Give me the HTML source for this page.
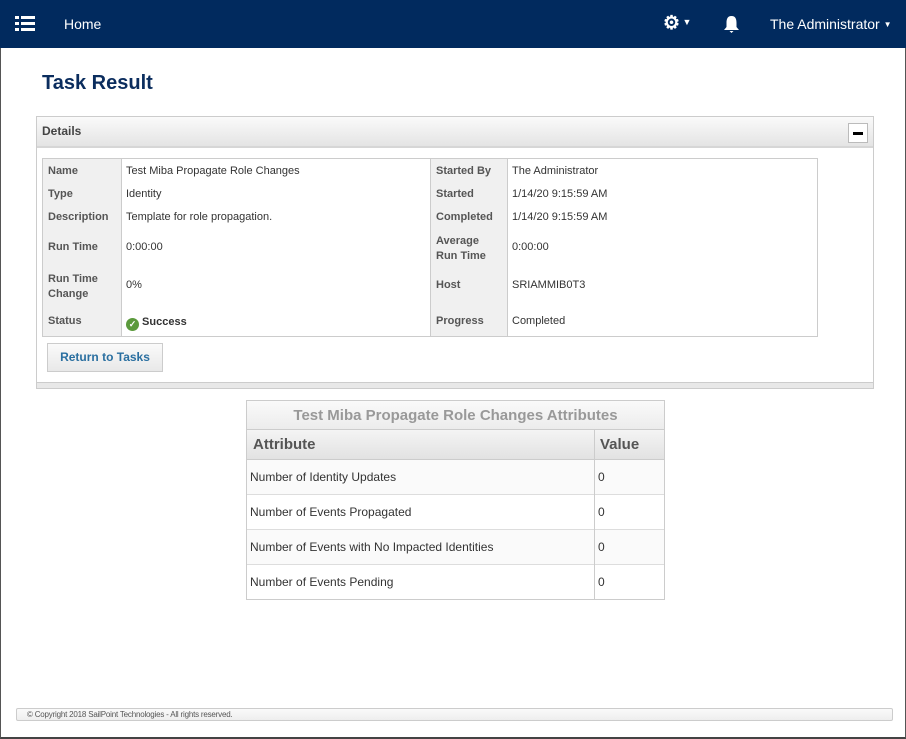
<!DOCTYPE html>
<html><head><style>
*{box-sizing:border-box;margin:0;padding:0}
body{width:906px;height:739px;background:#fff;font-family:"Liberation Sans",sans-serif;position:relative;overflow:hidden}
.nav{position:absolute;left:0;top:0;width:906px;height:48px;background:#012a5e;color:#fff}
.abs{position:absolute}
.lbl{color:#555;font-weight:bold;font-size:11px;background:#f0f0f0}
.val{color:#333;font-size:11px}
td{vertical-align:top}
</style></head><body>
<div class="abs" style="left:0;top:0;width:906px;height:739px;border-left:1px solid #555;border-right:1px solid #555;border-bottom:2px solid #444"></div>
<div class="nav">
<svg class="abs" style="left:15px;top:16px" width="20" height="15"><g fill="#fff"><rect x="0" y="0" width="4" height="3"/><rect x="6" y="0" width="14" height="3"/><rect x="0" y="6" width="4" height="3"/><rect x="6" y="6" width="14" height="3"/><rect x="0" y="12" width="4" height="3"/><rect x="6" y="12" width="14" height="3"/></g></svg>
<div class="abs" style="left:64px;top:16px;font-size:14px">Home</div>
<div class="abs" style="left:663px;top:12px;font-size:19px;font-weight:bold">⚙<span style="font-size:9px;vertical-align:4px"> ▼</span></div>
<svg class="abs" style="left:723px;top:15px" width="17" height="18"><path d="M8.5 1 C4 1 3.5 5 3.5 8 L3.5 12 L1 15 L16 15 L13.5 12 L13.5 8 C13.5 5 13 1 8.5 1Z M6.5 16 L10.5 16 L8.5 18Z" fill="#fff"/></svg>
<div class="abs" style="left:770px;top:16px;font-size:14px">The Administrator <span style="font-size:8px;vertical-align:2px">▼</span></div>
</div>
<div class="abs" style="left:42px;top:72px;font-size:20px;font-weight:bold;color:#0b2d5e">Task Result</div>
<div class="abs" style="left:36px;top:116px;width:838px;height:273px;border:1px solid #ccc">
<div style="height:31px;background:linear-gradient(#fafafa,#e4e4e4);border-bottom:2px solid #d6d6d6;padding:7px 5px;font-size:12px;font-weight:bold;color:#444">Details</div>
<div class="abs" style="right:5px;top:6px;width:20px;height:20px;border:1px solid #bbb;background:#fff"><div style="margin:8px 4px;height:3px;background:#000"></div></div>
<div class="abs" style="left:0;bottom:0;width:836px;height:6px;background:#e8e8e8;border-top:1px solid #ccc"></div>
</div>
<table class="abs" style="left:42px;top:158px;width:776px;height:179px;border-collapse:collapse;border:1px solid #ccc">
<colgroup><col style="width:79px"><col style="width:309px"><col style="width:77px"><col></colgroup>
<tr style="height:24px"><td class="lbl" style="padding:6px 5px 0">Name</td><td class="val" style="padding:6px 4px 0;border-left:1px solid #ccc">Test Miba Propagate Role Changes</td><td class="lbl" style="padding:6px 5px 0;border-left:1px solid #ccc">Started By</td><td class="val" style="padding:6px 4px 0;border-left:1px solid #ccc">The Administrator</td></tr>
<tr style="height:23px"><td class="lbl" style="padding:5px 5px 0">Type</td><td class="val" style="padding:5px 4px 0;border-left:1px solid #ccc">Identity</td><td class="lbl" style="padding:5px 5px 0;border-left:1px solid #ccc">Started</td><td class="val" style="padding:5px 4px 0;border-left:1px solid #ccc">1/14/20 9:15:59 AM</td></tr>
<tr style="height:23px"><td class="lbl" style="padding:5px 5px 0">Description</td><td class="val" style="padding:5px 4px 0;border-left:1px solid #ccc">Template for role propagation.</td><td class="lbl" style="padding:5px 5px 0;border-left:1px solid #ccc">Completed</td><td class="val" style="padding:5px 4px 0;border-left:1px solid #ccc">1/14/20 9:15:59 AM</td></tr>
<tr style="height:38px"><td class="lbl" style="padding:12px 5px 0">Run Time</td><td class="val" style="padding:12px 4px 0;border-left:1px solid #ccc">0:00:00</td><td class="lbl" style="padding:5px 5px 0;border-left:1px solid #ccc;line-height:15px">Average Run Time</td><td class="val" style="padding:12px 4px 0;border-left:1px solid #ccc">0:00:00</td></tr>
<tr style="height:38px"><td class="lbl" style="padding:5px 5px 0;line-height:15px">Run Time Change</td><td class="val" style="padding:12px 4px 0;border-left:1px solid #ccc">0%</td><td class="lbl" style="padding:12px 5px 0;border-left:1px solid #ccc">Host</td><td class="val" style="padding:12px 4px 0;border-left:1px solid #ccc">SRIAMMIB0T3</td></tr>
<tr><td class="lbl" style="padding:10px 5px 0">Status</td><td class="val" style="padding:11px 4px 0;border-left:1px solid #ccc;font-weight:bold"><span style="display:inline-block;width:13px;height:13px;border-radius:50%;background:#5b9a3c;color:#fff;font-size:9px;text-align:center;line-height:13px;vertical-align:-2px">✓</span> Success</td><td class="lbl" style="padding:10px 5px 0;border-left:1px solid #ccc">Progress</td><td class="val" style="padding:10px 4px 0;border-left:1px solid #ccc">Completed</td></tr>
</table>
<div class="abs" style="left:47px;top:343px;width:116px;height:29px;border:1px solid #ccc;background:linear-gradient(#fafafa,#e8e8e8);color:#2a6fa0;font-size:12px;font-weight:bold;text-align:center;line-height:27px">Return to Tasks</div>
<div class="abs" style="left:246px;top:400px;width:419px;height:200px;border:1px solid #ccc">
<div style="height:29px;background:linear-gradient(#fafafa,#ececec);border-bottom:1px solid #ccc;color:#999;font-weight:bold;font-size:15px;text-align:center;line-height:29px">Test Miba Propagate Role Changes Attributes</div>
<div style="height:30px;background:linear-gradient(#f4f4f4,#e2e2e2);border-bottom:1px solid #ccc;color:#555;font-weight:bold;font-size:15px;position:relative"><span class="abs" style="left:6px;top:6px">Attribute</span><span class="abs" style="left:353px;top:6px">Value</span></div>
<div style="height:35px;background:#fafafa;border-bottom:1px solid #ddd;font-size:12px;color:#333;position:relative"><span class="abs" style="left:3px;top:10px">Number of Identity Updates</span><span class="abs" style="left:351px;top:10px">0</span></div>
<div style="height:35px;border-bottom:1px solid #ddd;font-size:12px;color:#333;position:relative"><span class="abs" style="left:3px;top:10px">Number of Events Propagated</span><span class="abs" style="left:351px;top:10px">0</span></div>
<div style="height:35px;background:#fafafa;border-bottom:1px solid #ddd;font-size:12px;color:#333;position:relative"><span class="abs" style="left:3px;top:10px">Number of Events with No Impacted Identities</span><span class="abs" style="left:351px;top:10px">0</span></div>
<div style="height:35px;font-size:12px;color:#333;position:relative"><span class="abs" style="left:3px;top:10px">Number of Events Pending</span><span class="abs" style="left:351px;top:10px">0</span></div>
<div class="abs" style="left:347px;top:29px;width:1px;height:170px;background:#ccc"></div>
</div>
<div class="abs" style="left:16px;top:708px;width:877px;height:13px;border:1px solid #ccc;border-radius:2px;background:linear-gradient(#fafafa,#eee);font-size:8px;color:#555;padding:1px 10px;letter-spacing:-0.2px">© Copyright 2018 SailPoint Technologies - All rights reserved.</div>
</body></html>
